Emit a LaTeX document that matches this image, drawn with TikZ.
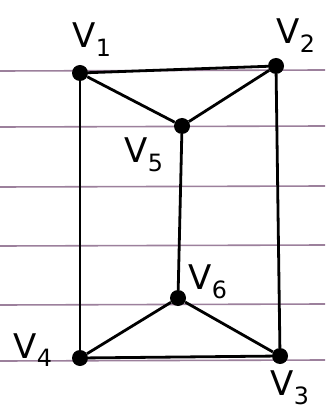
\documentclass[tikz,border=0pt]{standalone}
\usepackage{fontspec}
\setmainfont{DejaVu Sans}
\begin{document}
\begin{tikzpicture}[x=1pt,y=-1pt,
  vtx/.style={circle,fill=black,inner sep=0pt,minimum size=16pt},
  edge/.style={line width=2.8pt,black},
  rule/.style={line width=1.6pt,draw=black!55!violet!50!white},
  lab/.style={font=\fontsize{34}{36}\selectfont,inner sep=0pt}]
\path[use as bounding box,fill=white] (0,0) rectangle (325,419);
\foreach \yy/\d in {71/-1,127/-1,187/-1,246/-1,305/-1,361/-1}
  \draw[rule] (0,\yy) -- (325,\yy+\d);
\node[vtx] (v1) at (80,73) {};
\node[vtx] (v2) at (276,66) {};
\node[vtx] (v5) at (182,126) {};
\node[vtx] (v6) at (178,298) {};
\node[vtx] (v4) at (80,358) {};
\node[vtx] (v3) at (280,356) {};
\draw[edge] (v1) -- (v2);
\draw[edge] (v1) -- (v4);
\draw[edge] (v2) -- (v3);
\draw[edge] (v4) -- (v3);
\draw[edge] (v1) -- (v5);
\draw[edge] (v2) -- (v5);
\draw[edge] (v5) -- (v6);
\draw[edge] (v6) -- (v4);
\draw[edge] (v6) -- (v3);
\node[lab] (l1) at (92,40) {V$_{\mathrm{1}}$};
\node[lab] (l2) at (296,36) {V$_{\mathrm{2}}$};
\node[lab] (l5) at (144,155) {V$_{\mathrm{5}}$};
\node[lab] (l6) at (208,282) {V$_{\mathrm{6}}$};
\node[lab] (l4) at (33,350) {V$_{\mathrm{4}}$};
\node[lab] (l3) at (290,388) {V$_{\mathrm{3}}$};
\end{tikzpicture}
\end{document}
